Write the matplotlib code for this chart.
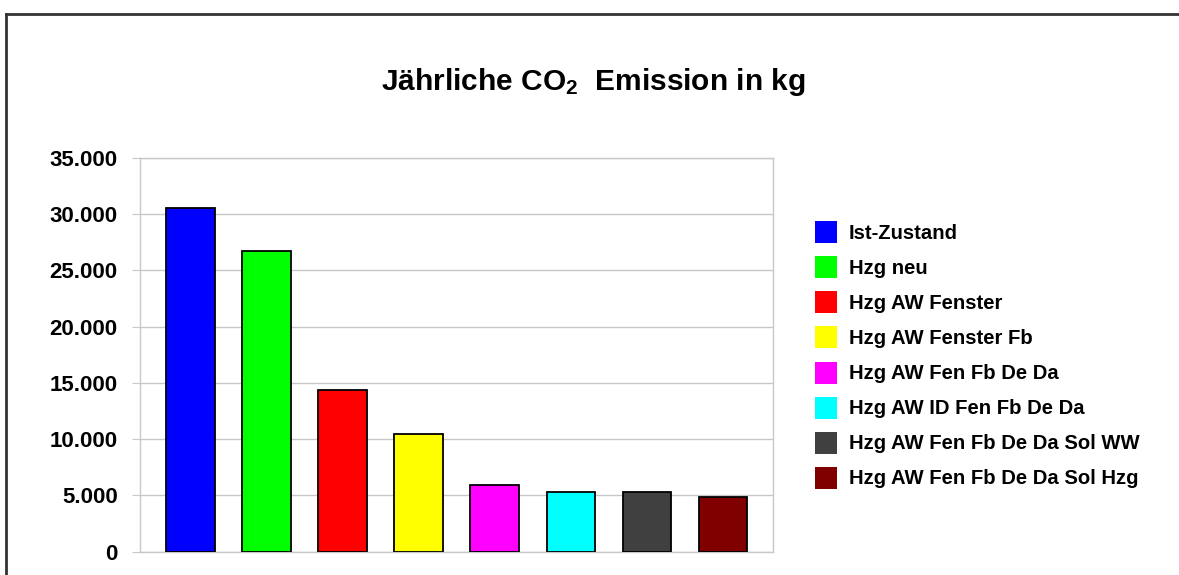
import numpy as np
import matplotlib
matplotlib.use("Agg")
import matplotlib.pyplot as plt
from matplotlib.patches import Patch
from matplotlib.lines import Line2D
from matplotlib.ticker import FuncFormatter, MultipleLocator

plt.rcParams['font.family'] = ['Liberation Sans', 'DejaVu Sans']
plt.rcParams['font.weight'] = 'bold'
plt.rcParams['mathtext.fontset'] = 'custom'
plt.rcParams['mathtext.rm'] = 'Liberation Sans:bold'
plt.rcParams['mathtext.default'] = 'rm'

# data
labels = ["Ist-Zustand", "Hzg neu", "Hzg AW Fenster", "Hzg AW Fenster Fb",
          "Hzg AW Fen Fb De Da", "Hzg AW ID Fen Fb De Da",
          "Hzg AW Fen Fb De Da Sol WW", "Hzg AW Fen Fb De Da Sol Hzg"]
values = [30550, 26700, 14350, 10450, 5900, 5330, 5270, 4880]
colors = ["#0000ff", "#00ff00", "#ff0000", "#ffff00",
          "#ff00ff", "#00ffff", "#404040", "#800000"]

fig = plt.figure(figsize=(11.79, 5.75), dpi=100)
ax = fig.add_axes([140/1179, 1-551.7/575, (773-140)/1179, (551.7-157.6)/575])

x = np.arange(len(values))
ax.bar(x, values, width=0.64, color=colors, edgecolor="black", linewidth=1.3, zorder=3)

ax.set_xlim(-0.664, 7.657)
ax.set_ylim(0, 35000)
ax.yaxis.set_major_locator(MultipleLocator(5000))
ax.yaxis.set_major_formatter(FuncFormatter(lambda v, p: f"{int(v):,}".replace(",", ".")))
ax.set_xticks([])
ax.grid(axis="y", color="#c8c8c8", linewidth=1, zorder=0)
for s in ax.spines.values():
    s.set_color("#c8c8c8")
    s.set_linewidth(1)
ax.tick_params(axis="y", length=6, color="#c8c8c8", pad=10, labelsize=16)

fig.text(0.503, 1-82/575, "Jährliche CO$_2$  Emission in kg",
         ha="center", va="center", fontsize=21.5, fontweight="bold")

handles = [Patch(facecolor=c, edgecolor="none") for c in colors]
fig.legend(handles, labels, loc="center left", bbox_to_anchor=(815/1179, 1-355/575),
           frameon=False, fontsize=14.6, handlelength=1.08, handleheight=1.29,
           handletextpad=0.6, labelspacing=0.645, borderpad=0, borderaxespad=0)

# outer frame (top and left edges visible)
fig.add_artist(Line2D([5.5/1179, 1.0], [1-13.5/575, 1-13.5/575], transform=fig.transFigure,
                      color="#333333", linewidth=2))
fig.add_artist(Line2D([5.5/1179, 5.5/1179], [1-13.5/575, 0], transform=fig.transFigure,
                      color="#333333", linewidth=2))

fig.savefig("out.png", dpi=100)
